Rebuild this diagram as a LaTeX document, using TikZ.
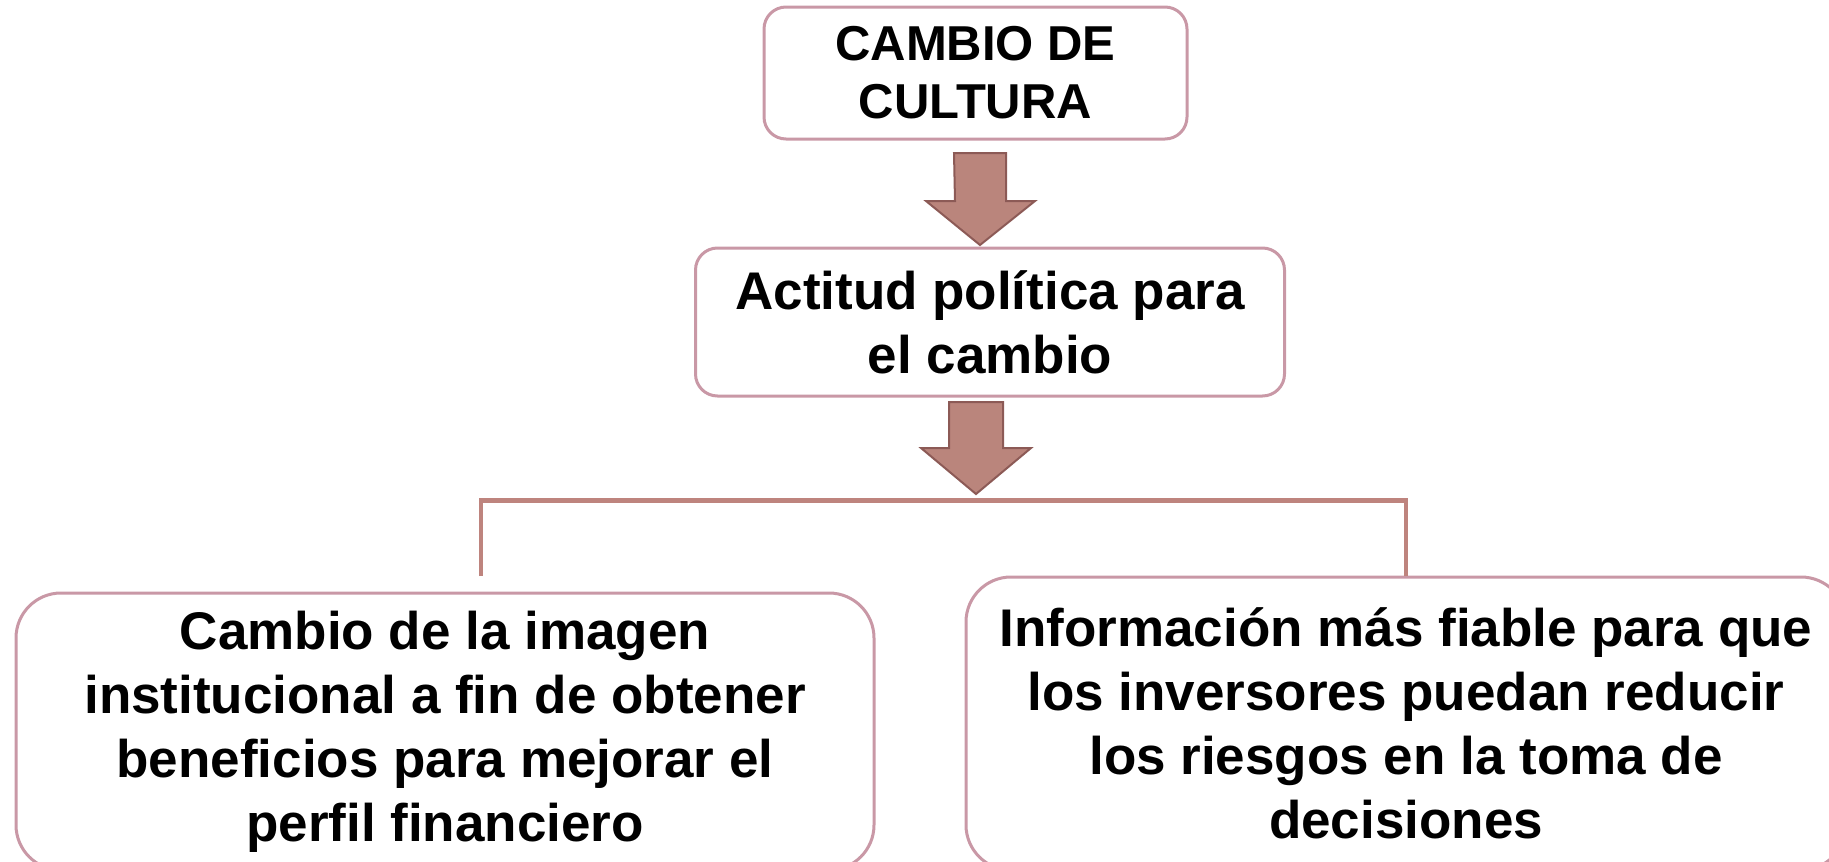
\documentclass[tikz,border=0pt]{standalone}
\usepackage{fontspec}
\setmainfont{Liberation Sans}
\usetikzlibrary{positioning,calc}
\definecolor{roseline}{RGB}{201,152,166}
\definecolor{arrowfill}{RGB}{186,133,124}
\definecolor{arrowline}{RGB}{140,90,86}
\definecolor{barline}{RGB}{190,132,126}

\begin{document}
\begin{tikzpicture}[x=1pt,y=-1pt,
    box/.style={draw=roseline, line width=3pt, fill=white, align=center, inner sep=0pt},
    blockarrow/.style={draw=arrowline, line width=2pt, fill=arrowfill, line join=miter},
    bar/.style={draw=barline, line width=4.5pt}]
    \useasboundingbox (0,0) rectangle (1829,862);

    % Boxes
    \node[box, rounded corners=22pt, minimum width=423pt, minimum height=132pt,
          font=\bfseries\fontsize{49}{58}\selectfont] (cultura) at (975.5,73) {CAMBIO DE\\CULTURA};
    \node[box, rounded corners=22pt, minimum width=589pt, minimum height=148pt,
          font=\bfseries\fontsize{53}{64}\selectfont] (actitud) at (990,322) {Actitud política para\\el cambio};
    \node[box, rounded corners=45pt, minimum width=858pt, minimum height=277pt,
          font=\bfseries\fontsize{53}{64}\selectfont] (imagen) at (445,731.5)
          {Cambio de la imagen\\institucional a fin de obtener\\beneficios para mejorar el\\perfil financiero};
    \node[box, rounded corners=45pt, minimum width=880pt, minimum height=293pt,
          font=\bfseries\fontsize{53}{64}\selectfont] (info) at (1406,723.5)
          {Información más fiable para que\\los inversores puedan reducir\\los riesgos en la toma de\\decisiones};

    % Block arrows
    \coordinate (a1) at (980,153);
    \coordinate (a2) at (976,402);
    \draw[blockarrow] (a1) ++(-26,0) -- ++(52,0) -- ++(0,48) -- ++(29,0)
        -- ($(a1)+(0,92)$) -- ++(-54,-44) -- ++(29,0) -- cycle;
    \draw[blockarrow] (a2) ++(-27,0) -- ++(54,0) -- ++(0,46) -- ++(28,0)
        -- ($(a2)+(0,92)$) -- ++(-55,-46) -- ++(28,0) -- cycle;

    % Branch
    \coordinate (branch) at (481,576);
    \draw[bar] (branch) |- ($(info.north)+(0,-75)$) -- (info.north);
\end{tikzpicture}
\end{document}
